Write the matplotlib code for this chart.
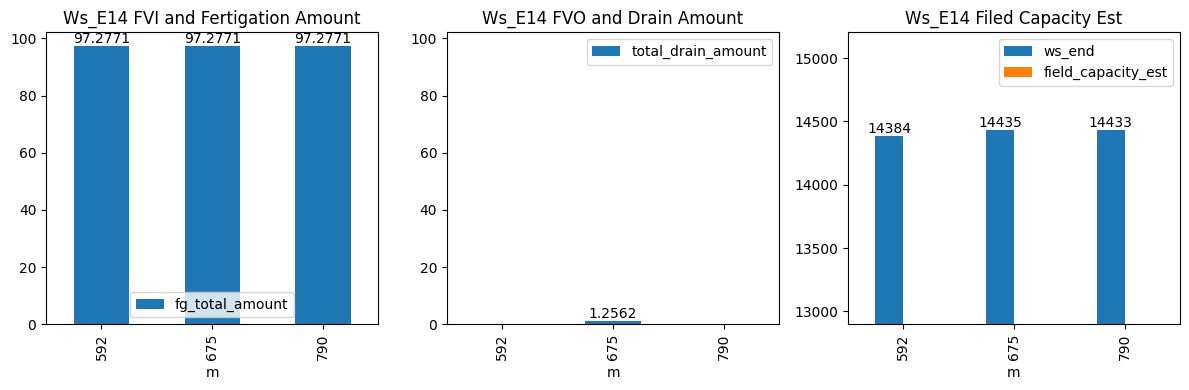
import numpy as np
import pandas as pd
import matplotlib
matplotlib.use("Agg")
import matplotlib.pyplot as plt

m = [592, 675, 790]
fg_total_amount = [97.2771, 97.2771, 97.2771]
total_drain_amount = [np.nan, 1.2562, np.nan]
ws_end = [14384, 14435, 14433]
field_capacity_est = [np.nan, np.nan, np.nan]

df1 = pd.DataFrame({"fg_total_amount": fg_total_amount}, index=pd.Index(m, name="m"))
df2 = pd.DataFrame({"total_drain_amount": total_drain_amount}, index=pd.Index(m, name="m"))
df3 = pd.DataFrame({"ws_end": ws_end, "field_capacity_est": field_capacity_est},
                   index=pd.Index(m, name="m"))


def label_bars(ax, df):
    for c, col in zip(ax.containers, df.columns):
        labels = ["" if pd.isna(v) else "%g" % v for v in df[col]]
        ax.bar_label(c, labels=labels)


fig, axes = plt.subplots(1, 3, figsize=(12, 4), dpi=100)

ax = axes[0]
df1.plot.bar(ax=ax)
label_bars(ax, df1)
ax.set_title("Ws_E14 FVI and Fertigation Amount")
ax.legend(loc="lower center")
ylim1 = ax.get_ylim()

ax = axes[1]
df2.plot.bar(ax=ax)
label_bars(ax, df2)
ax.set_title("Ws_E14 FVO and Drain Amount")
ax.set_ylim(ylim1)
ax.legend(loc="upper right")

ax = axes[2]
df3.plot.bar(ax=ax)
label_bars(ax, df3)
ax.set_title("Ws_E14 Filed Capacity Est")
ax.set_ylim(12898, 15203)
ax.legend(loc="upper right")

fig.tight_layout()
fig.savefig("out.png", dpi=100, bbox_inches="tight")
